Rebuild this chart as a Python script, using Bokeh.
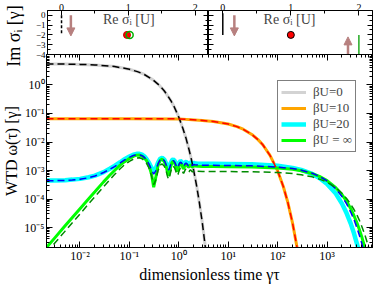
from bokeh.plotting import figure
from bokeh.models import (LogAxis, LinearAxis, Range1d, Legend, LegendItem, Label,
                          Arrow, NormalHead, FixedTicker, ColumnDataSource)
from bokeh.layouts import column, row
from bokeh.embed import file_html
from bokeh.resources import INLINE

SERIF = "Liberation Serif"

# ---------------- data ----------------
# beta U = 0 (gray solid, black dashed)
tau_u0 = [0.0021, 0.005, 0.01, 0.02, 0.05, 0.1, 0.15, 0.2, 0.3, 0.4, 0.5, 0.6, 0.7, 0.8,
          1.0, 1.2, 1.4, 1.6, 1.8, 2.0, 2.3, 2.6, 3.0, 3.5, 4.0]
wtd_u0 = [5.45, 5.38, 5.27, 5.05, 4.43, 3.57, 2.88, 2.33, 1.51, 0.98, 0.64, 0.41, 0.27, 0.176,
          0.074, 0.031, 0.0134, 0.0056, 0.0024, 1.0e-3, 2.8e-4, 7.6e-5, 1.4e-5, 1.6e-6, 1.8e-7]

# beta U = 10 (orange solid, red dashed)
tau_u10 = [0.0021, 0.01, 0.1, 1, 3, 5, 10, 15, 20, 30, 40, 50, 70, 100, 130, 160, 200, 250, 300]
wtd_u10 = [0.065, 0.065, 0.065, 0.0647, 0.057, 0.0526, 0.0427, 0.0346, 0.0281, 0.0184, 0.0121,
           0.0080, 0.0034, 9.7e-4, 2.75e-4, 7.8e-5, 1.45e-5, 1.78e-6, 2.2e-7]

# beta U = 20 and beta U = infinity share one time grid
tau = [0.0021, 0.003, 0.005, 0.007, 0.01, 0.015, 0.02, 0.03, 0.04, 0.05, 0.065, 0.08, 0.1,
       0.12, 0.14, 0.16, 0.18, 0.2, 0.22, 0.25, 0.28, 0.31, 0.34, 0.38, 0.42,
       0.46, 0.51, 0.56, 0.59, 0.62, 0.65, 0.69, 0.73, 0.77, 0.82, 0.87, 0.9,
       0.93, 0.96, 1.0, 1.04, 1.08, 1.13, 1.18, 1.21, 1.24, 1.27, 1.31, 1.35,
       1.4, 1.45, 1.5, 1.55, 1.6, 1.65, 1.7, 1.76, 1.82, 1.86, 1.9, 1.96, 2.02, 2.1,
       2.4, 3, 5, 10, 30,
       100, 200, 300, 500, 700, 1000, 1500, 2000, 2500, 3000, 3500, 4000, 4500, 5000, 5500,
       6000, 7000, 8000]

wtd_u20 = [4.5e-4, 4.5e-4, 4.6e-4, 4.8e-4, 5.1e-4, 5.8e-4, 6.6e-4, 8.8e-4, 1.15e-3, 1.45e-3, 1.95e-3, 2.5e-3, 3.1e-3,
           3.6e-3, 3.85e-3, 3.85e-3, 3.6e-3, 3.15e-3, 2.6e-3, 1.85e-3, 1.25e-3, 9.5e-4, 1.15e-3, 1.9e-3, 2.6e-3,
           2.8e-3, 2.4e-3, 1.7e-3, 1.35e-3, 1.25e-3, 1.4e-3, 1.85e-3, 2.3e-3, 2.45e-3, 2.2e-3, 1.75e-3, 1.5e-3,
           1.42e-3, 1.5e-3, 1.75e-3, 2.0e-3, 2.15e-3, 2.05e-3, 1.8e-3, 1.62e-3, 1.55e-3, 1.6e-3, 1.78e-3, 1.95e-3,
           2.0e-3, 1.93e-3, 1.78e-3, 1.65e-3, 1.68e-3, 1.8e-3, 1.9e-3, 1.88e-3, 1.76e-3, 1.68e-3, 1.69e-3, 1.78e-3, 1.84e-3, 1.8e-3,
           1.74e-3, 1.72e-3, 1.72e-3, 1.71e-3, 1.66e-3,
           1.46e-3, 1.24e-3, 1.05e-3, 7.6e-4, 5.5e-4, 3.4e-4, 1.55e-4, 6.9e-5, 3.1e-5, 1.4e-5, 6.3e-6, 2.8e-6, 1.3e-6, 5.7e-7, 2.6e-7,
           1.2e-7, 2.3e-8, 4.7e-9]

wtd_u20_approx = [4.4e-4, 4.4e-4, 4.5e-4, 4.65e-4, 4.95e-4, 5.6e-4, 6.4e-4, 8.5e-4, 1.1e-3, 1.38e-3, 1.85e-3, 2.35e-3, 2.9e-3,
                  3.35e-3, 3.55e-3, 3.55e-3, 3.3e-3, 2.9e-3, 2.4e-3, 1.65e-3, 1.05e-3, 7.5e-4, 9.5e-4, 1.7e-3, 2.4e-3,
                  2.6e-3, 2.2e-3, 1.5e-3, 1.15e-3, 1.05e-3, 1.2e-3, 1.65e-3, 2.1e-3, 2.25e-3, 2.0e-3, 1.58e-3, 1.32e-3,
                  1.25e-3, 1.33e-3, 1.57e-3, 1.8e-3, 1.95e-3, 1.86e-3, 1.62e-3, 1.45e-3, 1.38e-3, 1.43e-3, 1.6e-3, 1.76e-3,
                  1.8e-3, 1.74e-3, 1.6e-3, 1.48e-3, 1.5e-3, 1.61e-3, 1.7e-3, 1.68e-3, 1.57e-3, 1.5e-3, 1.51e-3, 1.59e-3, 1.63e-3, 1.6e-3,
                  1.55e-3, 1.52e-3, 1.52e-3, 1.5e-3, 1.46e-3,
                  1.32e-3, 1.17e-3, 1.03e-3, 8.0e-4, 6.25e-4, 4.3e-4, 2.3e-4, 1.23e-4, 6.6e-5, 3.5e-5, 1.9e-5, 1.0e-5, 5.4e-6, 2.9e-6, 1.5e-6,
                  8.2e-7, 2.4e-7, 6.8e-8]

wtd_uinf = [2.0e-6, 4.1e-6, 1.15e-5, 2.25e-5, 4.6e-5, 1.03e-4, 1.8e-4, 4.0e-4, 6.8e-4, 1.0e-3, 1.55e-3, 2.05e-3, 2.65e-3,
            3.15e-3, 3.45e-3, 3.5e-3, 3.2e-3, 2.7e-3, 2.3e-3, 1.45e-3, 7.5e-4, 2.6e-4, 5.5e-4, 1.5e-3, 2.3e-3,
            2.5e-3, 2.05e-3, 1.3e-3, 8.5e-4, 6.5e-4, 8.5e-4, 1.45e-3, 1.95e-3, 2.1e-3, 1.85e-3, 1.35e-3, 1.05e-3,
            9.5e-4, 1.05e-3, 1.35e-3, 1.65e-3, 1.8e-3, 1.7e-3, 1.42e-3, 1.25e-3, 1.15e-3, 1.22e-3, 1.42e-3, 1.6e-3,
            1.66e-3, 1.58e-3, 1.43e-3, 1.3e-3, 1.34e-3, 1.46e-3, 1.55e-3, 1.52e-3, 1.4e-3, 1.33e-3, 1.35e-3, 1.44e-3, 1.48e-3, 1.44e-3,
            1.4e-3, 1.38e-3, 1.38e-3, 1.37e-3, 1.33e-3,
            1.23e-3, 1.1e-3, 9.8e-4, 7.8e-4, 6.2e-4, 4.45e-4, 2.5e-4, 1.44e-4, 8.2e-5, 4.7e-5, 2.6e-5, 1.5e-5, 8.6e-6, 4.9e-6, 2.8e-6,
            1.6e-6, 5.2e-7, 1.7e-7]

wtd_uinf_approx = [1.3e-6, 2.7e-6, 7.5e-6, 1.47e-5, 3.0e-5, 6.8e-5, 1.2e-4, 2.7e-4, 4.7e-4, 7.2e-4, 1.15e-3, 1.6e-3, 2.1e-3,
                   2.5e-3, 2.75e-3, 2.8e-3, 2.6e-3, 2.25e-3, 1.85e-3, 1.2e-3, 6.5e-4, 3.2e-4, 4.5e-4, 1.0e-3, 1.55e-3,
                   1.7e-3, 1.4e-3, 9.0e-4, 6.2e-4, 5.0e-4, 6.0e-4, 9.5e-4, 1.3e-3, 1.42e-3, 1.25e-3, 9.5e-4, 7.5e-4,
                   6.8e-4, 7.3e-4, 9.0e-4, 1.1e-3, 1.2e-3, 1.13e-3, 9.6e-4, 8.6e-4, 8.0e-4, 8.3e-4, 9.5e-4, 1.07e-3,
                   1.11e-3, 1.06e-3, 9.7e-4, 8.9e-4, 9.0e-4, 9.8e-4, 1.04e-3, 1.02e-3, 9.5e-4, 9.0e-4, 9.1e-4, 9.6e-4, 9.9e-4, 9.6e-4,
                   9.4e-4, 9.3e-4, 9.3e-4, 9.2e-4, 9.05e-4,
                   8.5e-4, 7.8e-4, 7.1e-4, 6.0e-4, 5.0e-4, 3.9e-4, 2.5e-4, 1.6e-4, 1.03e-4, 6.6e-5, 4.3e-5, 2.8e-5, 1.8e-5, 1.14e-5, 7.3e-6,
                   4.7e-6, 1.9e-6, 8.0e-7]

legend_labels = ["βU=0", "βU=10", "βU=20", "βU = ∞"]

# axis ticks and tick labels
x_major = [1e-2, 1e-1, 1e0, 1e1, 1e2, 1e3]
x_major_labels = ["10⁻²", "10⁻¹", "10⁰", "10¹", "10²", "10³"]
y_major = [1e-5, 1e-4, 1e-3, 1e-2, 1e-1, 1e0]
y_major_labels = ["10⁻⁵", "10⁻⁴", "10⁻³", "10⁻²", "10⁻¹", "10⁰"]
x_minor = [m * 10.0 ** e for e in range(-3, 4) for m in range(2, 10)]
y_minor = [m * 10.0 ** e for e in range(-6, 1) for m in range(2, 10)] + [10.0]

# insets: eigenvalues sigma_i in the complex plane
in1_line_x = [0.0]; in1_line_y0 = [0.0]; in1_line_y1 = [-2.0]
in1_arrow_x = [0.14]; in1_arrow_y0 = [0.0]; in1_arrow_y1 = [-2.1]
in1_red_x = [0.98]; in1_red_y = [-2.0]
in1_green_x = [1.02]; in1_green_y = [-2.0]

in2_line_x = [0.0]; in2_line_y0 = [0.2]; in2_line_y1 = [-2.0]
in2_arrow_x = [0.17, 1.84]; in2_arrow_y0 = [0.0, -4.2]; in2_arrow_y1 = [-2.1, -2.2]
in2_red_x = [1.0]; in2_red_y = [-2.0]
in2_green_x = [2.0]; in2_green_y0 = [-2.0]; in2_green_y1 = [-4.0]

inset_xticks = [0, 1, 2]
inset_xminor = [-0.5, 0.5, 1.5]
inset_yticks = [0, -1, -2, -3, -4]
inset_yminor = [0.5, -0.5, -1.5, -2.5, -3.5, -4.5]

BROWN = "#b7807f"


def style_axis(ax, labels=True, size="12px", major_in=6, minor_in=3):
    ax.major_tick_in = major_in
    ax.major_tick_out = 0
    ax.minor_tick_in = minor_in
    ax.minor_tick_out = 0
    ax.axis_line_color = "black"
    ax.major_tick_line_color = "black"
    ax.minor_tick_line_color = "black"
    ax.major_label_text_font = SERIF
    ax.axis_label_text_font = SERIF
    ax.axis_label_text_font_style = "normal"
    ax.axis_label_text_color = "black"
    if labels:
        ax.major_label_text_color = "black"
        ax.major_label_text_font_size = size
        ax.major_label_standoff = 2
    else:
        ax.major_label_text_color = None
        ax.major_label_text_font_size = "1px"
        ax.major_label_standoff = 0


# ---------------- insets (row on top) ----------------
def make_inset(width, left, right, show_ylabels):
    p = figure(width=width, height=80, x_range=Range1d(-0.21, 2.2), y_range=Range1d(-4.7, 0.48),
               min_border_left=left, min_border_right=right, min_border_top=10, min_border_bottom=19,
               x_axis_location="above", title_location=None,
               toolbar_location=None, output_backend="svg")
    p.xgrid.visible = False
    p.ygrid.visible = False
    p.outline_line_color = "black"
    p.border_fill_color = None
    p.background_fill_color = "white"
    p.add_layout(LinearAxis(), "right")
    for ax in p.xaxis:
        ax.ticker = FixedTicker(ticks=inset_xticks, minor_ticks=inset_xminor)
        style_axis(ax, labels=True, size="10px", major_in=5, minor_in=3)
        ax.major_label_standoff = 0
    for ax in p.yaxis:
        ax.ticker = FixedTicker(ticks=inset_yticks, minor_ticks=inset_yminor)
        lab = show_ylabels and ax.id == p.left[0].id
        style_axis(ax, labels=lab, size="9px", major_in=5, minor_in=3)
    return p


in1 = make_inset(208, 42, 0, True)
in1.left[0].axis_label = "Im σᵢ [γ]"
in1.left[0].axis_label_text_font_size = "18px"
in1.left[0].axis_label_standoff = 9
in1.segment(x0=in1_line_x, y0=in1_line_y0, x1=in1_line_x, y1=in1_line_y1,
            line_color="black", line_width=1.5, line_dash="3 2")
in1.add_layout(Arrow(source=ColumnDataSource(dict(x=in1_arrow_x, y0=in1_arrow_y0, y1=in1_arrow_y1)),
                     x_start="x", y_start="y0", x_end="x", y_end="y1",
                     line_color=BROWN, line_width=2.5,
                     end=NormalHead(size=8, fill_color=BROWN, line_color=BROWN)))
in1.scatter(in1_red_x, in1_red_y, size=7, fill_color="#ff0000", line_color="#cc0000")
in1.scatter(in1_green_x, in1_green_y, size=7, fill_color=None, line_color="#00b000", line_width=1.5)
in1.add_layout(Label(x=0.62, y=-0.45, text="Re σᵢ [U]", text_baseline="middle",
                     text_font=SERIF, text_font_size="14px"))

in2 = make_inset(166, 0, 2, False)
in2.segment(x0=in2_line_x, y0=in2_line_y0, x1=in2_line_x, y1=in2_line_y1,
            line_color="black", line_width=1.5)
in2.segment(x0=in2_green_x, y0=in2_green_y0, x1=in2_green_x, y1=in2_green_y1,
            line_color="#22aa22", line_width=1.5)
in2.add_layout(Arrow(source=ColumnDataSource(dict(x=in2_arrow_x, y0=in2_arrow_y0, y1=in2_arrow_y1)),
                     x_start="x", y_start="y0", x_end="x", y_end="y1",
                     line_color=BROWN, line_width=2.5,
                     end=NormalHead(size=8, fill_color=BROWN, line_color=BROWN)))
in2.scatter(in2_red_x, in2_red_y, size=7, fill_color="#ff0000", line_color="black")
in2.add_layout(Label(x=0.6, y=-0.45, text="Re σᵢ [U]", text_baseline="middle",
                     text_font=SERIF, text_font_size="14px"))

# ---------------- main plot (overlaps the inset row from the top) ----------------
main = figure(width=374, height=292, x_axis_type="log", y_axis_type="log",
              x_range=Range1d(0.0021, 8300), y_range=Range1d(2.0e-6, 11.7),
              min_border_left=42, min_border_right=2, min_border_top=61, min_border_bottom=35,
              title_location=None, toolbar_location=None, output_backend="svg",
              styles={"margin-top": "-87px"})
main.xgrid.visible = False
main.ygrid.visible = False
main.outline_line_color = "black"
main.background_fill_color = "white"
main.border_fill_color = None
main.add_layout(LogAxis(), "above")
main.add_layout(LogAxis(), "right")
for ax in main.xaxis:
    ax.ticker = FixedTicker(ticks=x_major, minor_ticks=x_minor)
    style_axis(ax, labels=(ax.id == main.below[0].id))
for ax in main.yaxis:
    ax.ticker = FixedTicker(ticks=y_major, minor_ticks=y_minor)
    style_axis(ax, labels=(ax.id == main.left[0].id))
main.below[0].major_label_overrides = dict(zip(x_major, x_major_labels))
main.left[0].major_label_overrides = dict(zip(y_major, y_major_labels))
main.below[0].major_label_standoff = 1
main.below[0].axis_label = "dimensionless time γτ"
main.below[0].axis_label_text_font_size = "16px"
main.below[0].axis_label_standoff = 0
main.left[0].axis_label = "WTD ω(τ) [γ]"
main.left[0].axis_label_text_font_size = "16px"
main.left[0].axis_label_standoff = 1

r_gray = main.line(tau_u0, wtd_u0, line_color="#d3d3d3", line_width=3)
r_orange = main.line(tau_u10, wtd_u10, line_color="#ffa500", line_width=3)
r_cyan = main.line(tau, wtd_u20, line_color="#00ffff", line_width=4.5)
r_green = main.line(tau, wtd_uinf, line_color="#00ff00", line_width=3)
main.line(tau_u0, wtd_u0, line_color="black", line_width=1.5, line_dash="7 4")
main.line(tau_u10, wtd_u10, line_color="#ff0000", line_width=1.5, line_dash="7 4")
main.line(tau, wtd_u20_approx, line_color="#0000ff", line_width=1.5, line_dash="7 4")
main.line(tau, wtd_uinf_approx, line_color="#008b00", line_width=1.5, line_dash="7 4")

legend = Legend(items=[LegendItem(label=legend_labels[i], renderers=[r])
                       for i, r in enumerate([r_gray, r_orange, r_cyan, r_green])],
                location=(231, 95), orientation="vertical")
legend.border_line_color = "black"
legend.border_line_width = 1
legend.background_fill_color = "white"
legend.background_fill_alpha = 1.0
legend.label_text_font = SERIF
legend.label_text_font_size = "13px"
legend.glyph_width = 25
legend.glyph_height = 16
legend.label_height = 16
legend.label_standoff = 7
legend.spacing = 0
legend.padding = 3
legend.margin = 0
main.add_layout(legend)

layout = column(row(in1, in2), main)

open("out.html", "w").write(file_html(layout, INLINE))
